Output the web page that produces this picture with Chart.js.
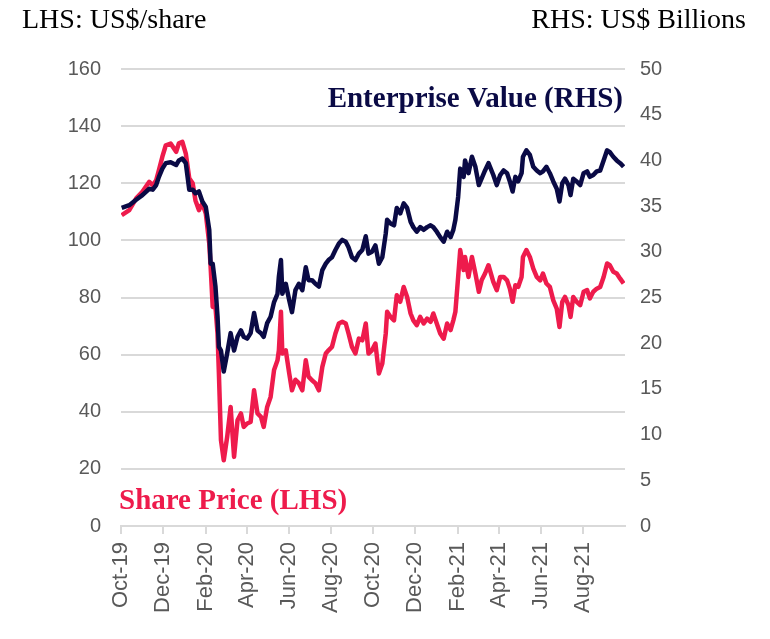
<!DOCTYPE html>
<html>
<head>
<meta charset="utf-8">
<script src="https://cdn.jsdelivr.net/npm/chart.js@4"></script>
<style>
  html, body { margin: 0; padding: 0; background: #fff; }
  #wrap { width: 770px; height: 639px; }
</style>
</head>
<body>
<div id="wrap"><canvas id="grafik" width="770" height="639"></canvas></div>
<script>
/* =========================================================
   DATA (days counted from 1 Oct 2019)
========================================================= */
const dayOffset = [
  1, 12, 22, 31, 41, 46, 51, 55, 60, 65,
  72, 80, 84, 89, 94, 99, 104, 108, 113, 118,
  123, 128, 130, 133, 137, 140, 142, 145, 149, 154,
  159, 164, 169, 174, 178, 183, 188, 193, 198, 203,
  207, 212, 217, 222, 227, 229, 232, 234, 239, 244,
  248, 253, 258, 263, 268, 272, 277, 282, 287, 292,
  297, 301, 306, 311, 316, 321, 326, 330, 335, 340,
  345, 350, 355, 359, 364, 369, 374, 379, 384, 386,
  391, 396, 400, 405, 410, 415, 420, 424, 429, 434,
  439, 444, 449, 453, 458, 463, 468, 473, 478, 482,
  485, 489, 492, 497, 499, 504, 509, 514, 519, 523,
  528, 533, 540, 545, 550, 555, 560, 564, 568, 572,
  576, 581, 583, 588, 593, 598, 603, 608, 612, 617,
  622, 627, 632, 636, 640, 644, 649, 652, 656, 661,
  666, 671, 676, 680, 685, 690, 695, 700, 705, 709,
  714, 719, 724, 729
];

// LHS: US$/share
const sharePrice = [
  108.8, 110.6, 114.7, 117.0, 120.5, 119.3, 121.0, 124.6, 129.3, 133.3,
  133.9, 131.0, 134.0, 134.5, 130.4, 121.7, 120.0, 114.0, 110.6, 112.9,
  109.4, 98.9, 90.7, 76.7, 76.7, 67.4, 53.4, 30.0, 23.0, 31.2,
  41.7, 24.2, 37.0, 39.4, 34.7, 35.9, 36.4, 47.5, 39.4, 38.2,
  34.7, 41.7, 45.2, 54.6, 58.0, 61.5, 75.0, 60.4, 61.5, 53.4,
  47.5, 51.2, 50.0, 47.5, 58.0, 52.3, 51.0, 50.0, 47.5, 55.7,
  60.4, 61.5, 62.7, 67.4, 70.9, 71.5, 70.9, 67.4, 62.7, 60.4,
  65.6, 65.0, 70.9, 60.4, 61.5, 63.9, 53.4, 56.9, 67.4, 75.0,
  73.2, 72.0, 80.8, 78.5, 83.7, 80.2, 74.4, 72.0, 70.3, 73.2,
  70.9, 72.6, 71.5, 74.4, 70.9, 67.4, 65.6, 70.9, 68.6, 72.0,
  75.0, 87.2, 96.6, 89.6, 94.2, 87.2, 94.2, 88.4, 82.0, 86.0,
  88.4, 91.3, 85.5, 82.6, 87.2, 87.2, 86.0, 83.1, 78.5, 84.3,
  83.7, 87.2, 94.2, 96.6, 94.2, 90.1, 87.2, 86.0, 88.4, 84.9,
  83.7, 79.0, 76.1, 69.7, 78.5, 80.2, 77.3, 73.2, 80.2, 78.5,
  77.3, 82.0, 82.6, 79.7, 82.0, 83.1, 83.7, 87.2, 91.9, 91.3,
  89.0, 88.4, 86.6, 84.9
];

// RHS: US$ Billions
const enterpriseValue = [
  34.8, 35.1, 35.7, 36.2, 36.9, 36.8, 37.3, 38.2, 39.1, 39.7,
  39.8, 39.5, 40.0, 40.2, 39.7, 36.8, 36.8, 36.4, 36.6, 35.5,
  34.9, 32.4, 28.7, 28.7, 26.2, 22.9, 19.6, 19.2, 16.9, 18.9,
  21.1, 19.2, 20.7, 21.4, 20.7, 20.5, 21.1, 23.3, 21.4, 21.1,
  20.7, 22.2, 22.9, 24.5, 25.4, 27.3, 29.1, 25.4, 26.5, 24.7,
  23.4, 25.8, 26.5, 25.8, 28.3, 26.9, 26.9, 26.5, 26.2, 28.0,
  28.7, 29.1, 29.4, 30.2, 30.9, 31.3, 31.1, 30.5, 29.4, 29.1,
  29.8, 30.2, 31.7, 29.8, 30.0, 30.7, 28.7, 29.4, 32.0, 33.5,
  33.1, 32.9, 34.8, 34.2, 35.3, 34.8, 33.3, 32.7, 32.2, 32.7,
  32.4, 32.7, 32.9, 32.7, 32.2, 31.6, 31.1, 32.2, 31.6, 32.4,
  33.5, 36.0, 39.1, 38.2, 40.0, 38.6, 40.4, 39.3, 37.3, 38.0,
  38.9, 39.7, 38.4, 37.3, 38.4, 38.9, 38.6, 37.7, 36.6, 38.2,
  37.7, 38.6, 40.4, 41.1, 40.6, 39.3, 38.9, 38.6, 38.8, 39.3,
  38.6, 37.7, 36.9, 35.5, 37.5, 38.0, 37.3, 36.2, 38.0, 37.7,
  37.3, 38.6, 38.8, 38.2, 38.4, 38.8, 38.9, 40.0, 41.1, 40.9,
  40.4, 40.0, 39.7, 39.3
];

// x-axis ticks every two months
const tickDays = [0, 61, 123, 183, 244, 305, 366, 427, 489, 548, 609, 670];
const tickLabels = ["Oct-19", "Dec-19", "Feb-20", "Apr-20", "Jun-20", "Aug-20",
                    "Oct-20", "Dec-20", "Feb-21", "Apr-21", "Jun-21", "Aug-21"];

/* =========================================================
   STYLE
========================================================= */
const RED = "#EE1B4C";
const NAVY = "#0A0A45";
const GRID = "#D9D9D9";
const TICK = "#595959";
const yFont = { family: "'Liberation Sans', Arial, sans-serif", size: 20 };
const xFont = { family: "'Liberation Sans', Arial, sans-serif", size: 22 };

/* =========================================================
   TEKS (header + series labels)
========================================================= */
const textPlugin = {
  id: "teks",
  afterDatasetsDraw(chart) {
    const ctx = chart.ctx;
    const a = chart.chartArea;
    ctx.save();
    ctx.textBaseline = "alphabetic";

    ctx.fillStyle = "#000";
    ctx.font = "28px 'Liberation Serif', 'DejaVu Serif', serif";
    ctx.textAlign = "left";
    ctx.fillText("LHS: US$/share", 22, 28);
    ctx.textAlign = "right";
    ctx.fillText("RHS: US$ Billions", 746, 28);

    ctx.font = "bold 29px 'Liberation Serif', 'DejaVu Serif', serif";
    ctx.fillStyle = NAVY;
    ctx.textAlign = "right";
    ctx.fillText("Enterprise Value (RHS)", a.right - 2, a.top + 38);

    ctx.fillStyle = RED;
    ctx.textAlign = "left";
    ctx.fillText("Share Price (LHS)", a.left - 2, a.bottom - 17);
    ctx.restore();
  }
};

/* =========================================================
   CHART
========================================================= */
const toPoints = (ys) => dayOffset.map((d, i) => ({ x: d, y: ys[i] }));

new Chart(document.getElementById("grafik"), {
  type: "line",
  data: {
    datasets: [
      {
        label: "Enterprise Value (RHS)",
        data: toPoints(enterpriseValue),
        yAxisID: "yR",
        borderColor: NAVY,
        borderWidth: 4.5,
        pointRadius: 0,
        borderJoinStyle: "round",
        order: 0
      },
      {
        label: "Share Price (LHS)",
        data: toPoints(sharePrice),
        yAxisID: "yL",
        borderColor: RED,
        borderWidth: 4.5,
        pointRadius: 0,
        borderJoinStyle: "round",
        order: 1
      }
    ]
  },
  options: {
    responsive: false,
    animation: false,
    devicePixelRatio: 1,
    layout: { padding: { top: 69, left: 0, right: 0, bottom: 0 } },
    plugins: { legend: { display: false }, tooltip: { enabled: false } },
    scales: {
      x: {
        type: "linear",
        min: 0,
        max: 731,
        afterBuildTicks(scale) {
          scale.ticks = tickDays.map(v => ({ value: v }));
        },
        afterFit(scale) { scale.height = 113; },
        ticks: {
          autoSkip: false,
          maxRotation: 90,
          minRotation: 90,
          color: TICK,
          font: xFont,
          padding: 8,
          callback: (v) => tickLabels[tickDays.indexOf(v)] || ""
        },
        grid: { drawOnChartArea: false, drawTicks: true, tickLength: 8, color: GRID, lineWidth: 2 },
        border: { color: GRID, width: 2 }
      },
      yL: {
        position: "left",
        min: 0,
        max: 160,
        afterBuildTicks(scale) {
          scale.ticks = [0, 20, 40, 60, 80, 100, 120, 140, 160].map(v => ({ value: v }));
        },
        afterFit(scale) { scale.width = 121; },
        ticks: { color: TICK, font: yFont, padding: 20 },
        grid: { color: GRID, lineWidth: 2, drawTicks: false },
        border: { display: false }
      },
      yR: {
        position: "right",
        min: 0,
        max: 50,
        afterBuildTicks(scale) {
          scale.ticks = [0, 5, 10, 15, 20, 25, 30, 35, 40, 45, 50].map(v => ({ value: v }));
        },
        afterFit(scale) { scale.width = 145; },
        ticks: { color: TICK, font: yFont, padding: 15 },
        grid: { display: false, drawTicks: false },
        border: { display: false }
      }
    }
  },
  plugins: [textPlugin]
});
</script>
</body>
</html>
